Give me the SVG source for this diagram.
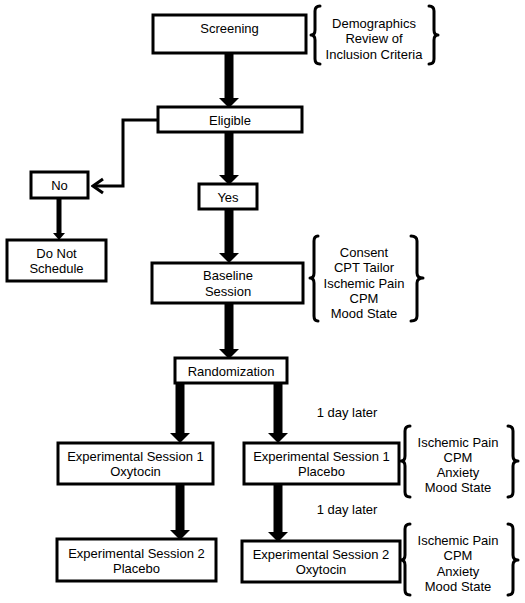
<svg xmlns="http://www.w3.org/2000/svg" width="525" height="603" viewBox="0 0 525 603">
<style>
.box{fill:#fff;stroke:#000;stroke-width:3}
.t{font-family:"Liberation Sans",Arial,sans-serif;font-size:13px;fill:#000;text-anchor:middle}
.br{fill:none;stroke:#000;stroke-width:3;stroke-linecap:round;stroke-linejoin:round}
.thick{stroke:#000;stroke-width:9;fill:none}
.thin{stroke:#000;stroke-width:3;fill:none}
</style>
<defs>
<marker id="big" markerUnits="userSpaceOnUse" markerWidth="10" markerHeight="20" viewBox="0 0 10 20" refX="0" refY="10" orient="auto">
<path d="M0,0 L10,10 L0,20 z" fill="#000"/>
</marker>
<marker id="small" markerUnits="userSpaceOnUse" markerWidth="7" markerHeight="12" viewBox="0 0 7 12" refX="0" refY="6" orient="auto">
<path d="M0,0 L7,6 L0,12 z" fill="#000"/>
</marker>
<marker id="open" markerUnits="userSpaceOnUse" markerWidth="14" markerHeight="18" viewBox="0 0 14 18" refX="12" refY="9" orient="auto">
<path d="M2,2 L12,9 L2,16" fill="none" stroke="#000" stroke-width="3"/>
</marker>
</defs>
<rect width="525" height="603" fill="#fff"/>
<g id="connectors">
<line class="thick" x1="229" y1="53" x2="229" y2="98" marker-end="url(#big)"/>
<polyline class="thin" points="158,120 123,120 123,186 93,186" marker-end="url(#open)"/>
<line x1="59" y1="198" x2="59" y2="233" stroke="#000" stroke-width="5" marker-end="url(#small)"/>
<line class="thick" x1="229" y1="132" x2="229" y2="175" marker-end="url(#big)"/>
<line class="thick" x1="229" y1="209" x2="229" y2="253" marker-end="url(#big)"/>
<line class="thick" x1="229" y1="303" x2="229" y2="349" marker-end="url(#big)"/>
<line class="thick" x1="180" y1="383" x2="180" y2="433" marker-end="url(#big)"/>
<line class="thick" x1="278" y1="383" x2="278" y2="433" marker-end="url(#big)"/>
<line class="thick" x1="180" y1="484" x2="180" y2="530" marker-end="url(#big)"/>
<line class="thick" x1="278" y1="484" x2="278" y2="532" marker-end="url(#big)"/>
</g>
<g id="screening">
<rect class="box" x="153" y="15" width="153" height="38"/>
<text class="t" x="229.5" y="33">Screening</text>
</g>
<g id="screening-notes">
<path class="br" d="M320,6 Q315,6 315,11 L315,30 Q315,35 311,35 Q315,35 315,40 L315,59 Q315,64 320,64"/>
<path class="br" d="M429,6 Q434,6 434,11 L434,30 Q434,35 438,35 Q434,35 434,40 L434,59 Q434,64 429,64"/>
<text class="t" x="374" y="28">Demographics</text>
<text class="t" x="374" y="43">Review of</text>
<text class="t" x="374" y="59">Inclusion Criteria</text>
</g>
<g id="eligible">
<rect class="box" x="158" y="107" width="144" height="25"/>
<text class="t" x="230" y="124.5">Eligible</text>
</g>
<g id="no">
<rect class="box" x="31" y="172" width="57" height="26"/>
<text class="t" x="59.5" y="189.5">No</text>
</g>
<g id="do-not-schedule">
<rect class="box" x="7" y="240" width="99" height="41"/>
<text class="t" x="56.5" y="257.5">Do Not</text>
<text class="t" x="56.5" y="272.5">Schedule</text>
</g>
<g id="yes">
<rect class="box" x="199" y="184" width="58" height="25"/>
<text class="t" x="228" y="201.5">Yes</text>
</g>
<g id="baseline">
<rect class="box" x="152" y="263" width="151" height="40"/>
<text class="t" x="228" y="279.5">Baseline</text>
<text class="t" x="228" y="295.5">Session</text>
</g>
<g id="baseline-notes">
<path class="br" d="M318,236 Q314,236 314,241 L314,273 Q314,278 310,278 Q314,278 314,283 L314,316 Q314,321 318,321"/>
<path class="br" d="M411,236 Q417,236 417,241 L417,273 Q417,278 423,278 Q417,278 417,283 L417,316 Q417,321 411,321"/>
<text class="t" x="364" y="256.5">Consent</text>
<text class="t" x="364" y="272">CPT Tailor</text>
<text class="t" x="364" y="287.5">Ischemic Pain</text>
<text class="t" x="364" y="302.5">CPM</text>
<text class="t" x="364" y="318">Mood State</text>
</g>
<g id="randomization">
<rect class="box" x="175" y="358" width="112" height="25"/>
<text class="t" x="231" y="375.5">Randomization</text>
</g>
<text class="t" x="347" y="416.5">1 day later</text>
<text class="t" x="347" y="513.5">1 day later</text>
<g id="exp1-oxytocin">
<rect class="box" x="58" y="443" width="155" height="41"/>
<text class="t" x="135.5" y="460.5">Experimental  Session 1</text>
<text class="t" x="135.5" y="475.5">Oxytocin</text>
</g>
<g id="exp1-placebo">
<rect class="box" x="244" y="443" width="155" height="41"/>
<text class="t" x="321.5" y="460.5">Experimental  Session 1</text>
<text class="t" x="321.5" y="475.5">Placebo</text>
</g>
<g id="exp1-notes">
<path class="br" d="M410,426 Q405,426 405,431 L405,456 Q405,461 401,461 Q405,461 405,466 L405,492 Q405,497 410,497"/>
<path class="br" d="M508,426 Q513,426 513,431 L513,456 Q513,461 518,461 Q513,461 513,466 L513,492 Q513,497 508,497"/>
<text class="t" x="458" y="446.5">Ischemic Pain</text>
<text class="t" x="458" y="461.5">CPM</text>
<text class="t" x="458" y="476.5">Anxiety</text>
<text class="t" x="458" y="492">Mood State</text>
</g>
<g id="exp2-placebo">
<rect class="box" x="57" y="539" width="159" height="42"/>
<text class="t" x="136.5" y="557.5">Experimental  Session 2</text>
<text class="t" x="136.5" y="572.5">Placebo</text>
</g>
<g id="exp2-oxytocin">
<rect class="box" x="242" y="541" width="158" height="41"/>
<text class="t" x="321" y="558.5">Experimental  Session 2</text>
<text class="t" x="321" y="573.5">Oxytocin</text>
</g>
<g id="exp2-notes">
<path class="br" d="M410,524 Q405,524 405,529 L405,555 Q405,560 401,560 Q405,560 405,565 L405,590 Q405,595 410,595"/>
<path class="br" d="M508,524 Q513,524 513,529 L513,555 Q513,560 518,560 Q513,560 513,565 L513,590 Q513,595 508,595"/>
<text class="t" x="458" y="544.5">Ischemic Pain</text>
<text class="t" x="458" y="560">CPM</text>
<text class="t" x="458" y="575.5">Anxiety</text>
<text class="t" x="458" y="591">Mood State</text>
</g>
</svg>
